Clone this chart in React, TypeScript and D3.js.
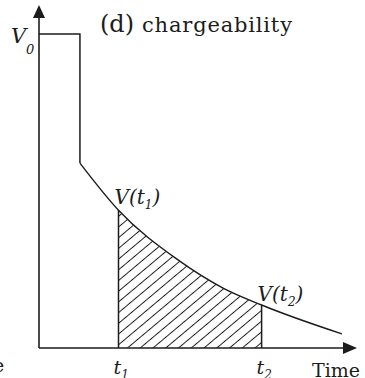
import React from "react";
import * as d3 from "d3";

// Charging pulse (time, voltage normalised to V0)
const pulseTime = [0, 1.03, 1.03];
const pulseVoltage = [1, 1, 0.589];

// Decay of the voltage after the current is switched off
const decayTime = [1.03, 2.0, 3.47, 4.63, 5.6, 7.62];
const decayVoltage = [0.589, 0.439, 0.283, 0.191, 0.137, 0.045];

// Integration window
const windowStart = 2.0;
const windowEnd = 5.6;

const xAxisMax = 8;
const yAxisMax = 1.092;

const W = 365;
const H = 378;

const SERIF = "'DejaVu Serif', 'Liberation Serif', serif";
const INK = "#1c1c1c";

export default function App() {
  const x = d3.scaleLinear().domain([0, xAxisMax]).range([39, 357]);
  const y = d3.scaleLinear().domain([0, 1]).range([348, 34]);

  const pulse = pulseTime.map((t, i) => [t, pulseVoltage[i]] as [number, number]);
  const decay = decayTime.map((t, i) => [t, decayVoltage[i]] as [number, number]);

  const pulseLine = d3
    .line<[number, number]>()
    .x((d) => x(d[0]))
    .y((d) => y(d[1]));

  const decayLine = d3
    .line<[number, number]>()
    .x((d) => x(d[0]))
    .y((d) => y(d[1]))
    .curve(d3.curveMonotoneX);

  const decayArea = d3
    .area<[number, number]>()
    .x((d) => x(d[0]))
    .y0(y(0))
    .y1((d) => y(d[1]))
    .curve(d3.curveMonotoneX);

  const vAt = (t: number) => decayVoltage[decayTime.indexOf(t)];

  const x0 = x(0);
  const y0 = y(0);
  const xEnd = x(xAxisMax);
  const yTop = y(yAxisMax);
  const xs = x(windowStart);
  const xe = x(windowEnd);

  return (
    <svg
      width={W}
      height={H}
      style={{ position: "absolute", left: 0, top: 0, background: "#fff" }}
    >
      <defs>
        <pattern
          id="hatch"
          patternUnits="userSpaceOnUse"
          width={10}
          height={8.2}
          patternTransform="rotate(-40)"
        >
          <line x1={0} y1={4.1} x2={10} y2={4.1} stroke={INK} strokeWidth={1} />
        </pattern>
        <clipPath id="window">
          <rect x={xs} y={0} width={xe - xs} height={y0} />
        </clipPath>
      </defs>

      {/* hatched integral between t1 and t2 */}
      <path d={decayArea(decay) || ""} fill="url(#hatch)" clipPath="url(#window)" />

      {/* axes */}
      <line x1={x0} y1={y0} x2={x0} y2={yTop + 10} stroke={INK} strokeWidth={1.6} />
      <polygon
        points={`${x0},${yTop} ${x0 - 6},${yTop + 13} ${x0 + 6},${yTop + 13}`}
        fill={INK}
      />
      <line x1={x0} y1={y0} x2={xEnd - 10} y2={y0} stroke={INK} strokeWidth={1.6} />
      <polygon
        points={`${xEnd},${y0} ${xEnd - 14},${y0 - 6} ${xEnd - 14},${y0 + 6}`}
        fill={INK}
      />

      {/* pulse and decay */}
      <path d={pulseLine(pulse) || ""} fill="none" stroke={INK} strokeWidth={1.5} />
      <path d={decayLine(decay) || ""} fill="none" stroke={INK} strokeWidth={1.4} />

      {/* window edges */}
      <line x1={xs} y1={y0} x2={xs} y2={y(vAt(windowStart))} stroke={INK} strokeWidth={1.5} />
      <line x1={xe} y1={y0} x2={xe} y2={y(vAt(windowEnd))} stroke={INK} strokeWidth={1.5} />

      {/* title */}
      <text x={100} y={32} fontFamily={SERIF} fontSize={24} fill={INK}>
        (d)
      </text>
      <text x={142} y={32} fontFamily={SERIF} fontSize={21} fill={INK} textLength={150}>
        chargeability
      </text>

      {/* V0 */}
      <text x={11} y={43} fontFamily={SERIF} fontSize={21} fontStyle="italic" fill={INK}>
        V
      </text>
      <text x={26} y={54} fontFamily={SERIF} fontSize={13} fontStyle="italic" fill={INK}>
        0
      </text>

      {/* V(t1) */}
      <text x={xs - 4} y={y(vAt(windowStart)) - 6} fontFamily={SERIF} fontSize={20} fontStyle="italic" fill={INK}>
        V(t
        <tspan fontSize={12} dy={5}>1</tspan>
        <tspan dy={-5}>)</tspan>
      </text>

      {/* V(t2) */}
      <text x={xe - 4} y={y(vAt(windowEnd)) - 4} fontFamily={SERIF} fontSize={20} fontStyle="italic" fill={INK}>
        V(t
        <tspan fontSize={12} dy={5}>2</tspan>
        <tspan dy={-5}>)</tspan>
      </text>

      {/* time marks */}
      <text x={xs - 5} y={374} fontFamily={SERIF} fontSize={19} fontStyle="italic" fill={INK}>
        t
        <tspan fontSize={12} dy={5}>1</tspan>
      </text>
      <text x={xe - 5} y={374} fontFamily={SERIF} fontSize={19} fontStyle="italic" fill={INK}>
        t
        <tspan fontSize={12} dy={5}>2</tspan>
      </text>
      <text x={312} y={377} fontFamily={SERIF} fontSize={19} fill={INK}>
        Time
      </text>
      <text x={-7} y={372} fontFamily={SERIF} fontSize={19} fill={INK}>
        e
      </text>
    </svg>
  );
}
